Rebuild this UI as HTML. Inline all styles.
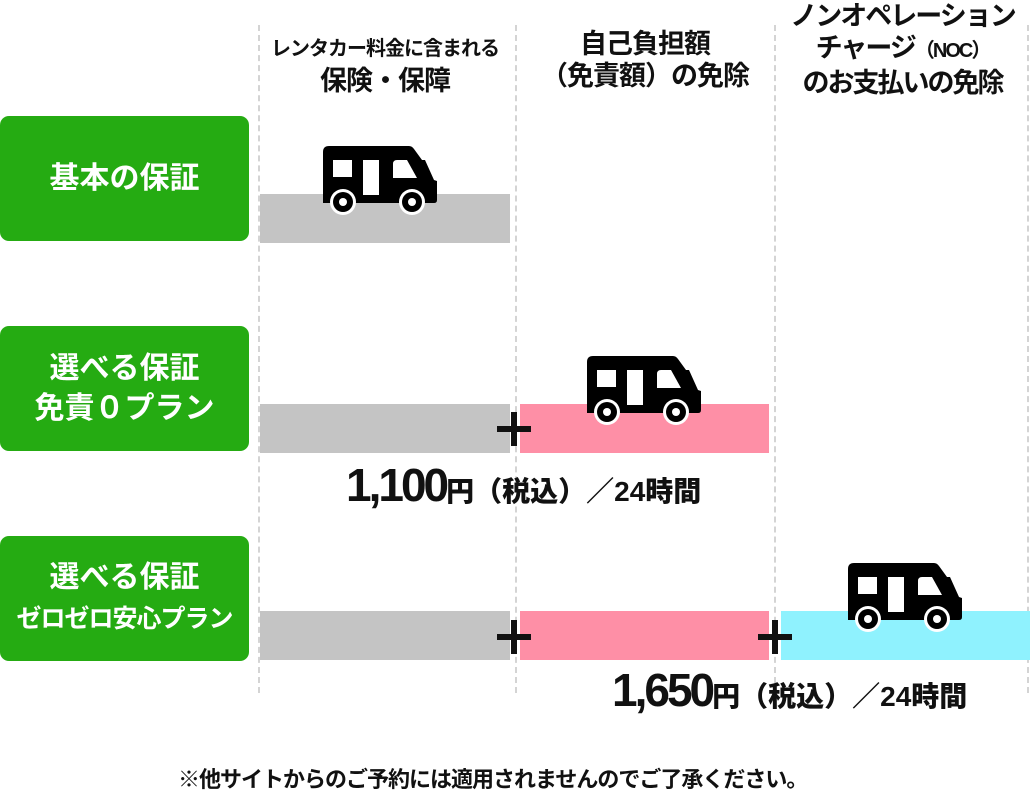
<!DOCTYPE html>
<html><head><meta charset="utf-8"><style>
body{margin:0;width:1030px;height:790px;background:#fff;position:relative;overflow:hidden;font-family:"Liberation Sans","Noto Sans CJK JP",sans-serif;font-weight:bold;color:#111}
.a{position:absolute}
.g{position:absolute;left:0;width:249px;height:125px;background:#25ab12;border-radius:9px;color:#fff;display:flex;align-items:center;justify-content:center;text-align:center;font-size:30px;line-height:40px}
.v{position:absolute;top:25px;height:668px;border-left:2px dashed #d4d4d4;width:0}
.b{position:absolute;height:49px}
.h{position:absolute;text-align:center;font-size:27px;line-height:32px;letter-spacing:-1px;white-space:nowrap}
.p{position:absolute;font-size:28px;line-height:30px;font-weight:900;white-space:nowrap}
</style></head><body>
<div class="v" style="left:258px"></div>
<div class="v" style="left:515px"></div>
<div class="v" style="left:774px"></div>
<div class="v" style="left:1027px"></div>

<div class="h" style="left:255px;top:30px;width:260px"><span style="font-size:20px">レンタカー料金に含まれる</span><br>保険・保障</div>
<div class="h" style="left:520px;top:28px;width:250px">自己負担額<br>（免責額）の免除</div>
<div class="h" style="left:775px;top:0px;width:255px;letter-spacing:-2px">ノンオペレーション<br>チャージ<span style="font-size:20px">（NOC）</span><br>のお支払いの免除</div>

<div class="g" style="top:116px"><div>基本の保証</div></div>
<div class="g" style="top:326px"><div>選べる保証<br>免責０プラン</div></div>
<div class="g" style="top:536px"><div>選べる保証<br><span style="font-size:25px;letter-spacing:-1px">ゼロゼロ安心プラン</span></div></div>

<div class="b" style="left:260px;top:194px;width:250px;background:#c4c4c4"></div>
<div class="b" style="left:260px;top:404px;width:250px;background:#c4c4c4"></div>
<div class="b" style="left:520px;top:404px;width:249px;background:#fe8fa6"></div>
<div class="b" style="left:260px;top:611px;width:250px;background:#c4c4c4"></div>
<div class="b" style="left:520px;top:611px;width:249px;background:#fe8fa6"></div>
<div class="b" style="left:781px;top:611px;width:249px;background:#8ff2fe"></div>

<svg class="a" style="left:0;top:0" width="1030" height="790">
<defs><g id="t">
<path d="M6 0 H86 Q89 0 91 3 L99 14 H102 L111 34 L114 35 V54 Q114 57 111 57 H0 V6 Q0 0 6 0Z" fill="#000"/>
<rect x="10" y="14" width="19" height="17" fill="#fff"/>
<rect x="40" y="14" width="16" height="35" fill="#fff"/>
<path d="M70 18 Q70 14 74 14 H84 L94 32 H70Z" fill="#fff"/>
<circle cx="20" cy="56" r="13" fill="#fff"/><circle cx="20" cy="56" r="10" fill="#000"/><circle cx="20" cy="56" r="4" fill="#fff"/>
<circle cx="89" cy="56" r="13" fill="#fff"/><circle cx="89" cy="56" r="10" fill="#000"/><circle cx="89" cy="56" r="4" fill="#fff"/>
</g>
<g id="pl"><rect x="-17" y="-3" width="34" height="6" fill="#111"/><rect x="-3" y="-17" width="6" height="34" fill="#111"/></g></defs>
<use href="#t" x="323" y="146"/>
<use href="#t" x="587" y="356"/>
<use href="#t" x="848" y="563"/>
<use href="#pl" x="514" y="429"/>
<use href="#pl" x="514" y="637"/>
<use href="#pl" x="775" y="637"/>
</svg>

<div class="p" style="left:346px;top:470px"><span style="font-size:46px;letter-spacing:-3px">1,100</span>円（税込）／24時間</div>
<div class="p" style="left:612px;top:675px"><span style="font-size:46px;letter-spacing:-3px">1,650</span>円（税込）／24時間</div>
<div class="a" style="left:178px;top:762px;font-size:22px;letter-spacing:-1px;white-space:nowrap">※他サイトからのご予約には適用されませんのでご了承ください。</div>
</body></html>
